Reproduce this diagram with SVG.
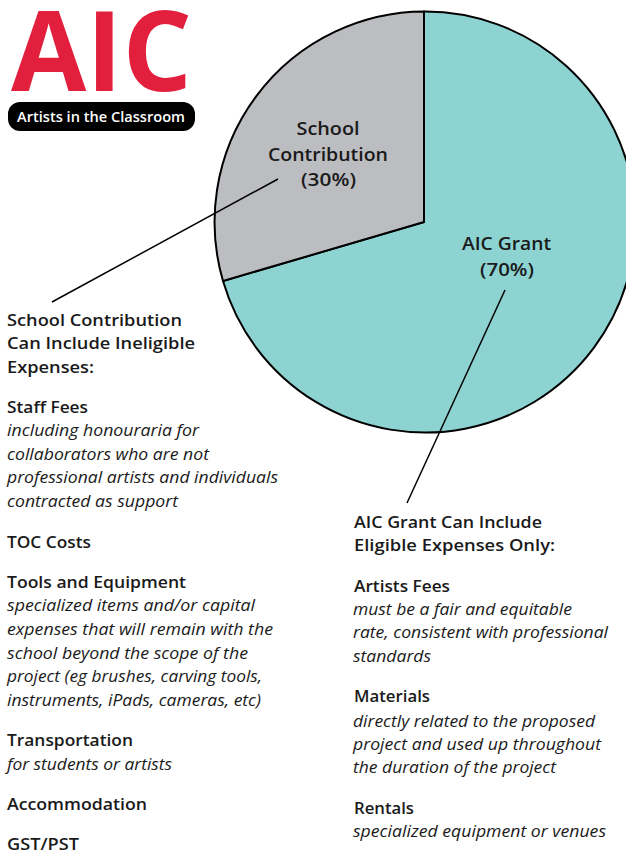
<svg xmlns="http://www.w3.org/2000/svg" width="626" height="851" viewBox="0 0 626 851">
<style>
text{font-family:"Open Sans","Noto Sans","Liberation Sans",sans-serif;fill:#1a1a1a;font-size:17px}
.b{font-weight:600}
.i{font-style:italic;font-size:16.5px}
.m{text-anchor:middle;font-weight:600;font-size:18.5px}
.pie{stroke:#000;stroke-width:2;stroke-linejoin:round}
.c{stroke:#000;stroke-width:1.5;fill:none}
</style>
<rect width="626" height="851" fill="#fff"/>
<g id="pie-grant"><path class="pie" fill="#8cd3d1" d="M424 222L223 281A210.5 210.5 0 1 0 424 11.500Z"/><text class="m" x="506.500" y="250" textLength="89" lengthAdjust="spacingAndGlyphs">AIC Grant</text><text class="m" x="507" y="276" textLength="54" lengthAdjust="spacingAndGlyphs">(70%)</text></g>
<g id="pie-school"><path class="pie" fill="#bcbdc0" d="M424 222L223 281A210.5 210.5 0 0 1 424 11.500Z"/><text class="m" x="328" y="135" textLength="63" lengthAdjust="spacingAndGlyphs">School</text><text class="m" x="328" y="161" textLength="120" lengthAdjust="spacingAndGlyphs">Contribution</text><text class="m" x="328.500" y="186" textLength="55" lengthAdjust="spacingAndGlyphs">(30%)</text></g>
<g id="connectors"><line class="c" x1="52" y1="302" x2="278" y2="179"/><line class="c" x1="407" y1="503" x2="505" y2="290"/></g>
<g id="logo">
<text x="11" y="91" style="font-size:112px;font-weight:700;fill:#e21f3d" textLength="181" lengthAdjust="spacingAndGlyphs">AIC</text>
<rect x="8" y="102" width="187" height="29" rx="12" fill="#000"/>
<text x="17" y="122" style="font-size:15px;font-weight:600;fill:#fff" textLength="168" lengthAdjust="spacingAndGlyphs">Artists in the Classroom</text>
</g>
<g id="school-list">
<text class="b" x="7" y="326" textLength="175" lengthAdjust="spacingAndGlyphs">School Contribution</text>
<text class="b" x="7" y="349" textLength="188" lengthAdjust="spacingAndGlyphs">Can Include Ineligible</text>
<text class="b" x="7" y="373" textLength="87" lengthAdjust="spacingAndGlyphs">Expenses:</text>
<text class="b" x="7" y="413" textLength="81" lengthAdjust="spacingAndGlyphs">Staff Fees</text>
<text class="i" x="7" y="436" textLength="192" lengthAdjust="spacingAndGlyphs">including honouraria for</text>
<text class="i" x="7" y="460" textLength="202" lengthAdjust="spacingAndGlyphs">collaborators who are not</text>
<text class="i" x="7" y="483" textLength="271" lengthAdjust="spacingAndGlyphs">professional artists and individuals</text>
<text class="i" x="7" y="507" textLength="171" lengthAdjust="spacingAndGlyphs">contracted as support</text>
<text class="b" x="7" y="548" textLength="84" lengthAdjust="spacingAndGlyphs">TOC Costs</text>
<text class="b" x="7" y="588" textLength="179" lengthAdjust="spacingAndGlyphs">Tools and Equipment</text>
<text class="i" x="7" y="611" textLength="248" lengthAdjust="spacingAndGlyphs">specialized items and/or capital</text>
<text class="i" x="7" y="635" textLength="266" lengthAdjust="spacingAndGlyphs">expenses that will remain with the</text>
<text class="i" x="7" y="659" textLength="241" lengthAdjust="spacingAndGlyphs">school beyond the scope of the</text>
<text class="i" x="7" y="682" textLength="255" lengthAdjust="spacingAndGlyphs">project (eg brushes, carving tools,</text>
<text class="i" x="7" y="706" textLength="254" lengthAdjust="spacingAndGlyphs">instruments, iPads, cameras, etc)</text>
<text class="b" x="7" y="746" textLength="126" lengthAdjust="spacingAndGlyphs">Transportation</text>
<text class="i" x="7" y="770" textLength="165" lengthAdjust="spacingAndGlyphs">for students or artists</text>
<text class="b" x="7" y="810" textLength="140" lengthAdjust="spacingAndGlyphs">Accommodation</text>
<text class="b" x="7" y="850" textLength="72" lengthAdjust="spacingAndGlyphs">GST/PST</text>
</g>
<g id="grant-list">
<text class="b" x="354" y="528" textLength="188" lengthAdjust="spacingAndGlyphs">AIC Grant Can Include</text>
<text class="b" x="354" y="551" textLength="201" lengthAdjust="spacingAndGlyphs">Eligible Expenses Only:</text>
<text class="b" x="354" y="592" textLength="96" lengthAdjust="spacingAndGlyphs">Artists Fees</text>
<text class="i" x="353" y="615" textLength="219" lengthAdjust="spacingAndGlyphs">must be a fair and equitable</text>
<text class="i" x="353" y="638" textLength="255" lengthAdjust="spacingAndGlyphs">rate, consistent with professional</text>
<text class="i" x="353" y="662" textLength="78" lengthAdjust="spacingAndGlyphs">standards</text>
<text class="b" x="354" y="702" textLength="76" lengthAdjust="spacingAndGlyphs">Materials</text>
<text class="i" x="353" y="727" textLength="242" lengthAdjust="spacingAndGlyphs">directly related to the proposed</text>
<text class="i" x="353" y="750" textLength="248" lengthAdjust="spacingAndGlyphs">project and used up throughout</text>
<text class="i" x="353" y="773" textLength="203" lengthAdjust="spacingAndGlyphs">the duration of the project</text>
<text class="b" x="354" y="814" textLength="60" lengthAdjust="spacingAndGlyphs">Rentals</text>
<text class="i" x="353" y="837" textLength="253" lengthAdjust="spacingAndGlyphs">specialized equipment or venues</text>
</g>
</svg>
